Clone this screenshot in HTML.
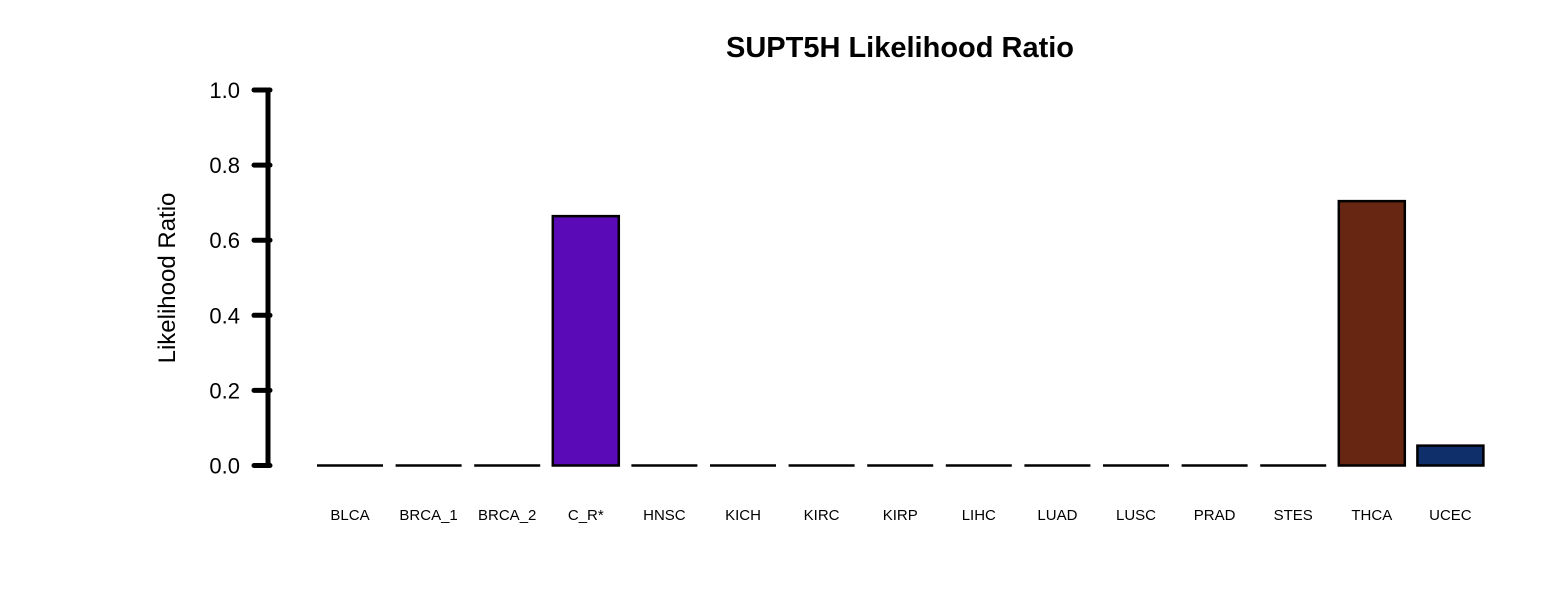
<!DOCTYPE html>
<html><head><meta charset="utf-8"><style>
body{margin:0;background:#fff;}
svg text{font-family:"Liberation Sans",Arial,sans-serif;}
</style></head><body>
<svg id="chart" width="1560" height="586" xmlns="http://www.w3.org/2000/svg">
<rect width="1560" height="586" fill="#fff"/>
<text x="900" y="57" text-anchor="middle" font-size="29" font-weight="bold">SUPT5H Likelihood Ratio</text>
<text transform="translate(175,278) rotate(-90)" text-anchor="middle" font-size="24">Likelihood Ratio</text>
<g id="yaxis"></g>
<g id="bars"></g>
<g id="xlabels"></g>
</svg>
<script>
const categories=["BLCA","BRCA_1","BRCA_2","C_R*","HNSC","KICH","KIRC","KIRP","LIHC","LUAD","LUSC","PRAD","STES","THCA","UCEC"];
const values=[0,0,0,0.664,0,0,0,0,0,0,0,0,0,0.704,0.053];
const colors=["#ffffff","#ffffff","#ffffff","#5b0ab8","#ffffff","#ffffff","#ffffff","#ffffff","#ffffff","#ffffff","#ffffff","#ffffff","#ffffff","#662611","#0e2f69"];
const yTicks=[0,0.2,0.4,0.6,0.8,1.0];
const yTickLabels=["0.0","0.2","0.4","0.6","0.8","1.0"];
const NS="http://www.w3.org/2000/svg";
const y0=465.5,y1=90;
function yScale(v){return y0-(y0-y1)*v;}
function xCenter(i){return 350+i*78.6;}
const barW=66;
const ya=document.getElementById('yaxis');
const ax=document.createElementNS(NS,'line');


ax.setAttribute('x1',268);ax.setAttribute('x2',268);ax.setAttribute('y1',yScale(1)-2);ax.setAttribute('y2',yScale(0)+2);
ax.setAttribute('stroke','#000');ax.setAttribute('stroke-width',5);
ya.appendChild(ax);
yTicks.forEach((t,i)=>{
  const l=document.createElementNS(NS,'line');
  
  
  l.setAttribute('x1',254);l.setAttribute('x2',270);l.setAttribute('y1',yScale(t));l.setAttribute('y2',yScale(t));
  l.setAttribute('stroke','#000');l.setAttribute('stroke-width',5);l.setAttribute('stroke-linecap','round');
  ya.appendChild(l);
  const tx=document.createElementNS(NS,'text');
  
  
  tx.setAttribute('x',240);tx.setAttribute('y',yScale(t)+8);tx.setAttribute('text-anchor','end');tx.setAttribute('font-size',22);
  tx.textContent=yTickLabels[i];
  ya.appendChild(tx);
});
const bg=document.getElementById('bars'),xg=document.getElementById('xlabels');
categories.forEach((c,i)=>{
  const p=document.createElementNS(NS,'path');
  
  
  const top=yScale(values[i]);
  const xl=xCenter(i)-barW/2, xr=xl+barW;
  p.setAttribute('d','M'+xl+','+top+'H'+xr+'V'+y0+'H'+xl+'Z');
  p.setAttribute('fill',colors[i]);p.setAttribute('stroke','#000');p.setAttribute('stroke-width',2.5);
  bg.appendChild(p);
  const t=document.createElementNS(NS,'text');
  
  
  t.setAttribute('x',xCenter(i));t.setAttribute('y',520);t.setAttribute('text-anchor','middle');t.setAttribute('font-size',15);
  t.textContent=c;
  xg.appendChild(t);
});
</script>
</body></html>
